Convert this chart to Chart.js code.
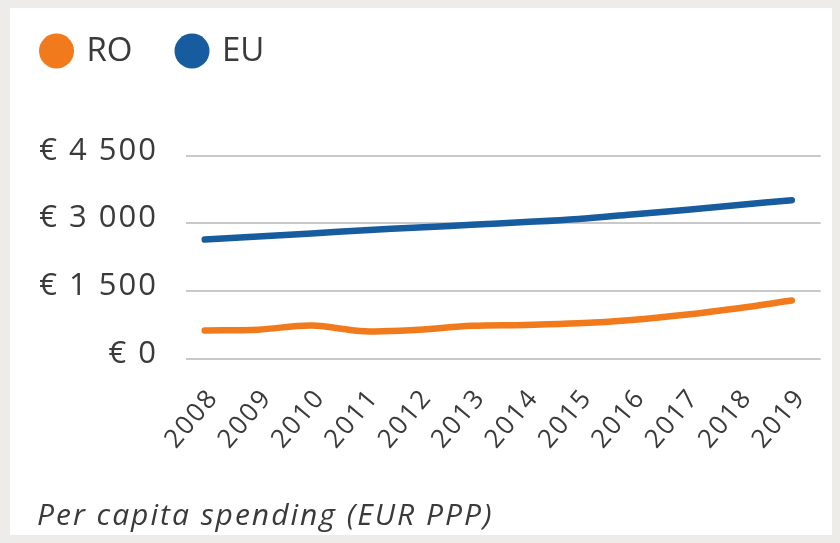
<!DOCTYPE html>
<html>
<head>
<meta charset="utf-8">
<script src="https://cdn.jsdelivr.net/npm/chart.js@4/dist/chart.umd.min.js"></script>
<style>
  body { margin: 0; background: #edece8; }
  #panel { position: absolute; left: 10px; top: 8px; width: 822px; height: 527px; background: #fff; }
</style>
</head>
<body>
<div id="panel"><canvas id="chart" width="822" height="527"></canvas></div>
<script>
// data
const years = [2008, 2009, 2010, 2011, 2012, 2013, 2014, 2015, 2016, 2017, 2018, 2019]
const ro = [630, 650, 740, 615, 645, 735, 755, 790, 865, 980, 1125, 1295]
const eu = [2643, 2710, 2780, 2850, 2910, 2970, 3030, 3100, 3200, 3300, 3410, 3516]
const yTicks = [0, 1500, 3000, 4500]
const yTickLabels = ['€ 0', '€ 1 500', '€ 3 000', '€ 4 500']

const textColor = '#3a3a3a'
const fontFamily = '"Open Sans", "Noto Sans", sans-serif'

// the original font runs wider, so space the letters a bit
const wideText = {
  id: 'wideText',
  beforeDraw(chart) { chart.ctx.letterSpacing = '2px' },
  afterDraw(chart) { chart.ctx.letterSpacing = '0px' }
}

// simple legend: filled circle + label, drawn on the canvas
const dotLegend = {
  id: 'dotLegend',
  afterDraw(chart) {
    const ctx = chart.ctx
    const spots = [36.5, 172]
    ctx.save()
    ctx.letterSpacing = '0px'
    chart.data.datasets.forEach((ds, i) => {
      const x = spots[i]
      ctx.fillStyle = ds.borderColor
      ctx.beginPath()
      ctx.arc(x + 10, 43, 17.5, 0, Math.PI * 2)
      ctx.fill()
      ctx.fillStyle = textColor
      ctx.font = '33px ' + fontFamily
      ctx.textBaseline = 'middle'
      ctx.fillText(ds.label, x + 40, 44)
    })
    ctx.restore()
  }
}

new Chart(document.getElementById('chart'), {
  type: 'line',
  data: {
    datasets: [{
      label: 'RO',
      data: years.map((y, i) => ({x: y, y: ro[i]})),
      borderColor: '#f07a1c',
      borderWidth: 6.5,
      tension: 0.35,
      pointRadius: 0,
      borderCapStyle: 'round'
    }, {
      label: 'EU',
      data: years.map((y, i) => ({x: y, y: eu[i]})),
      borderColor: '#175c9e',
      borderWidth: 6.5,
      tension: 0.35,
      pointRadius: 0,
      borderCapStyle: 'round'
    }]
  },
  options: {
    responsive: false,
    animation: false,
    layout: { padding: { top: 147.7, left: 27, right: 6, bottom: 0 } },
    plugins: {
      legend: { display: false },
      tooltip: { enabled: false },
      title: {
        display: true,
        position: 'bottom',
        align: 'start',
        text: 'Per capita spending (EUR PPP)',
        color: textColor,
        font: { family: fontFamily, size: 30, style: 'italic', weight: 'normal' },
        padding: { top: 0, bottom: 1 }
      }
    },
    scales: {
      x: {
        type: 'linear',
        min: 2007.65,
        max: 2019.54,
        afterBuildTicks: s => { s.ticks = years.map(v => ({value: v})) },
        afterFit: s => { s.height = 139 },
        grid: { display: false },
        border: { display: false },
        ticks: {
          autoSkip: false,
          minRotation: 50,
          maxRotation: 50,
          padding: 16,
          labelOffset: 9,
          color: textColor,
          font: { family: fontFamily, size: 26 },
          callback: v => String(v)
        }
      },
      y: {
        min: 0,
        max: 4500,
        afterBuildTicks: s => { s.ticks = yTicks.map(v => ({value: v})) },
        afterFit: s => { s.width = 149 },
        grid: { color: '#c9c9c9', lineWidth: 2, drawTicks: false },
        border: { display: false },
        ticks: {
          padding: 28,
          labelOffset: -5,
          color: textColor,
          font: { family: fontFamily, size: 31 },
          callback: (v, i) => yTickLabels[i]
        }
      }
    }
  },
  plugins: [wideText, dotLegend]
})
</script>
</body>
</html>
